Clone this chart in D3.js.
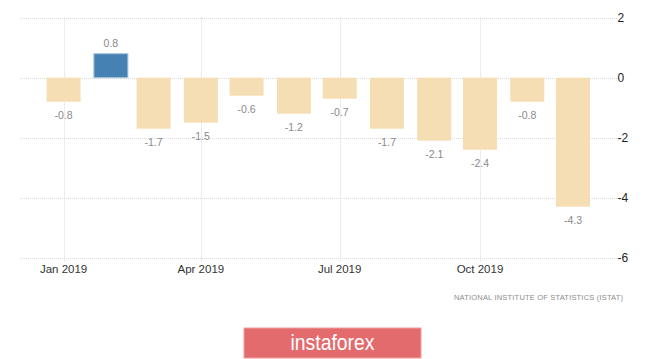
<!DOCTYPE html>
<html>
<head>
<meta charset="utf-8">
<script src="https://cdnjs.cloudflare.com/ajax/libs/d3/7.8.5/d3.min.js"></script>
<style>
  body { margin: 0; background: #fff; }
  svg { display: block; font-family: "Liberation Sans", Arial, sans-serif; }
  .grid line { stroke: #d9d9d9; stroke-dasharray: 1,1; }
  .val { fill: #8a8a8a; font-size: 10.5px; text-anchor: middle; }
  .ytick { fill: #222; font-size: 12px; }
  .xtick { fill: #333; font-size: 11.5px; text-anchor: middle; }
</style>
</head>
<body>
<svg width="665" height="359"></svg>
<script>
// monthly values, 2019
var months = ["2019-01", "2019-02", "2019-03", "2019-04", "2019-05", "2019-06",
              "2019-07", "2019-08", "2019-09", "2019-10", "2019-11", "2019-12"];
var values = [-0.8, 0.8, -1.7, -1.5, -0.6, -1.2, -0.7, -1.7, -2.1, -2.4, -0.8, -4.3];
var yTicks = [2, 0, -2, -4, -6];
var xTickDates = ["2019-01", "2019-04", "2019-07", "2019-10"];
var xTickLabels = ["Jan 2019", "Apr 2019", "Jul 2019", "Oct 2019"];
var source = "NATIONAL INSTITUTE OF STATISTICS (ISTAT)";

var svg = d3.select("svg"),
    plotLeft = 20, plotRight = 617, plotTop = 17.7, plotBottom = 257.7;

var parseMonth = d3.utcParse("%Y-%m");

var x = d3.scaleUtc()
    .domain([parseMonth("2019-01"), parseMonth("2019-12")])
    .range([63.6, 573]);
var y = d3.scaleLinear().domain([2, -6]).range([plotTop, plotBottom]);

var data = months.map(function(m, i) { return {date: parseMonth(m), value: values[i]}; });
var barW = 34;

// grid
var grid = svg.append("g").attr("class", "grid");
grid.selectAll(".h").data(yTicks).enter().append("line")
    .attr("x1", plotLeft).attr("x2", plotRight)
    .attr("y1", function(d) { return Math.round(y(d)) + 0.5; })
    .attr("y2", function(d) { return Math.round(y(d)) + 0.5; });
grid.selectAll(".v").data(xTickDates).enter().append("line")
    .attr("x1", function(d) { return Math.round(x(parseMonth(d))) + 0.5; })
    .attr("x2", function(d) { return Math.round(x(parseMonth(d))) + 0.5; })
    .attr("y1", plotTop).attr("y2", 262);

// bars
svg.selectAll(".bar").data(data).enter().append("rect")
    .attr("class", "bar")
    .attr("x", function(d) { return x(d.date) - barW / 2; })
    .attr("width", barW)
    .attr("y", function(d) { return y(Math.max(0, d.value)); })
    .attr("height", function(d) { return Math.abs(y(d.value) - y(0)); })
    .attr("fill", function(d) { return d.value >= 0 ? "#4681b4" : "#f5deb3"; })
    .attr("stroke", function(d) { return d.value >= 0 ? "#a9c3dc" : "none"; })
    .attr("stroke-width", 1);

// value labels
svg.selectAll(".val").data(data).enter().append("text")
    .attr("class", "val")
    .attr("x", function(d) { return x(d.date); })
    .attr("y", function(d) { return d.value >= 0 ? y(d.value) - 7 : y(d.value) + 17; })
    .text(function(d) { return d3.format(".1f")(d.value).replace("\u2212", "-"); });

// y axis labels (right side)
svg.selectAll(".ytick").data(yTicks).enter().append("text")
    .attr("class", "ytick")
    .attr("x", 617.5)
    .attr("y", function(d) { return y(d) + 4.5; })
    .text(function(d) { return d3.format("d")(d).replace("\u2212", "-"); });

// x axis labels
svg.selectAll(".xtick").data(xTickDates).enter().append("text")
    .attr("class", "xtick")
    .attr("x", function(d) { return x(parseMonth(d)); })
    .attr("y", 273)
    .text(function(d, i) { return xTickLabels[i]; });

// source
svg.append("text")
    .attr("x", 623).attr("y", 299.5)
    .attr("text-anchor", "end")
    .attr("fill", "#8c8c8c")
    .attr("font-size", "7.5px")
    .attr("textLength", 169)
    .attr("lengthAdjust", "spacing")
    .text(source);

// watermark
svg.append("rect")
    .attr("x", 244).attr("y", 328).attr("width", 177).attr("height", 30)
    .attr("fill", "#e46b6d")
    .attr("stroke", "#f0a0a0").attr("stroke-width", 1);
svg.append("text")
    .attr("x", 332.5).attr("y", 350)
    .attr("text-anchor", "middle")
    .attr("fill", "#fff")
    .attr("font-size", "22px")
    .attr("textLength", 84)
    .attr("lengthAdjust", "spacingAndGlyphs")
    .text("instaforex");
</script>
</body>
</html>
